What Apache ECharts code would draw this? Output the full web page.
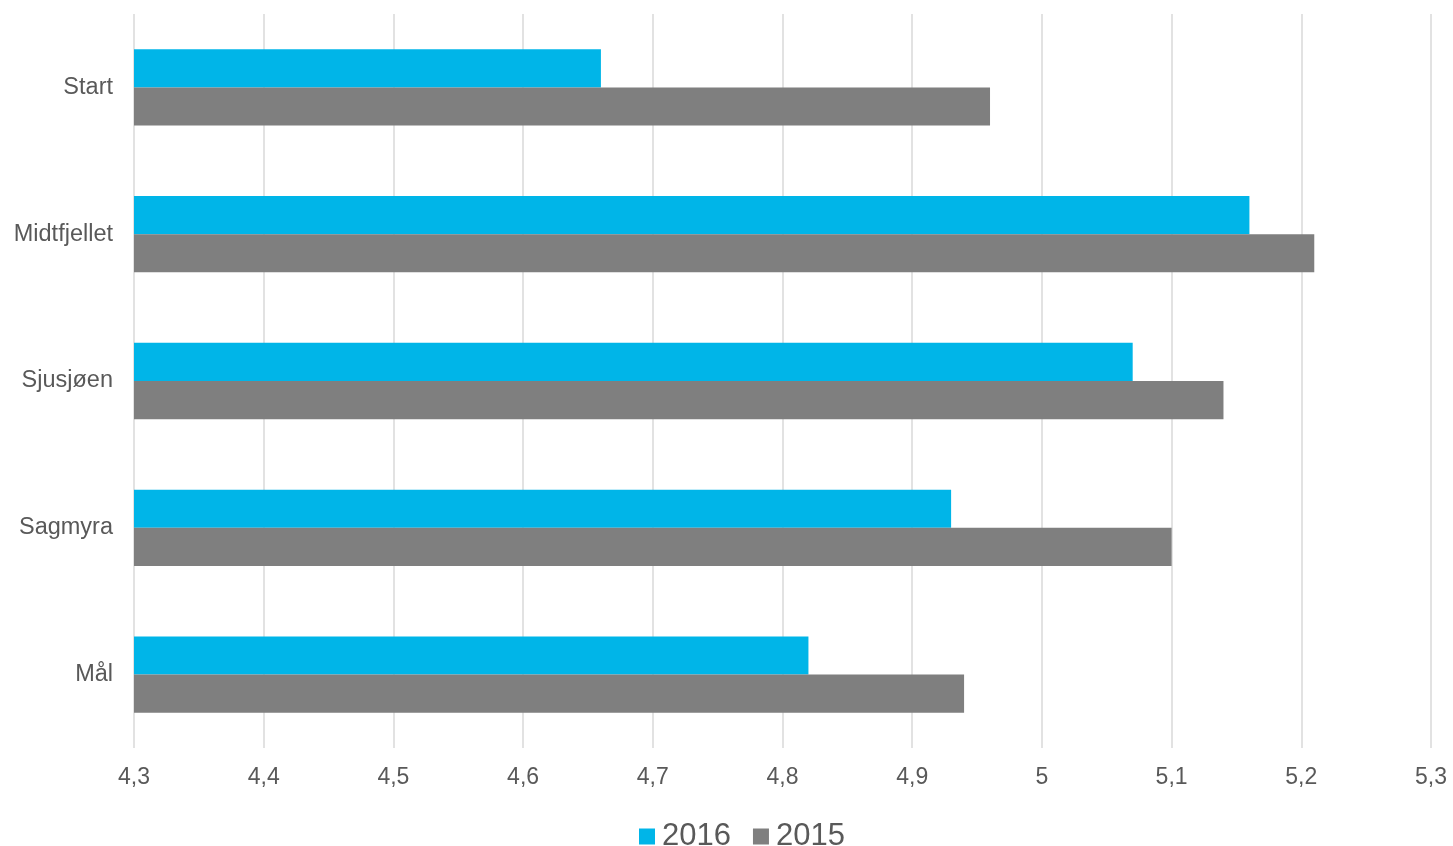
<!DOCTYPE html>
<html><head><meta charset="utf-8">
<script src="https://cdn.jsdelivr.net/npm/echarts@6/dist/echarts.min.js"></script>
<style>html,body{margin:0;padding:0;background:#fff}#c{width:1453px;height:846px}</style>
</head><body><div id="c"></div>
<script>
const categories = ["Start", "Midtfjellet", "Sjusjøen", "Sagmyra", "Mål"];
const values2016 = [4.66, 5.16, 5.07, 4.93, 4.82];
const values2015 = [4.96, 5.21, 5.14, 5.10, 4.94];
const seriesNames = ["2016", "2015"];

const chart = echarts.init(document.getElementById('c'));
chart.setOption({
  animation: false,
  textStyle: {fontFamily: 'Liberation Sans, Arial, sans-serif'},
  grid: {left: 134, right: 22, top: 14, bottom: 98, containLabel: false},
  legend: {
    left: 634, top: 816,
    itemWidth: 16, itemHeight: 16, itemGap: 22,
    icon: 'rect',
    textStyle: {fontSize: 31, color: '#595959', padding: [0, 0, 0, 2], fontFamily: 'Liberation Sans, Arial, sans-serif'},
    data: seriesNames
  },
  xAxis: {
    type: 'value', min: 4.3, max: 5.3, interval: 0.1,
    axisLine: {show: false}, axisTick: {show: false},
    splitLine: {show: true, lineStyle: {color: '#d9d9d9', width: 1.5}},
    axisLabel: {
      color: '#595959', fontSize: 23, margin: 18,
      formatter: v => (Math.round(v * 10) / 10).toString().replace('.', ',')
    }
  },
  yAxis: {
    type: 'category', data: categories, inverse: true,
    axisLine: {show: false}, axisTick: {show: false},
    axisLabel: {color: '#595959', fontSize: 23.5, margin: 21, padding: [4, 0, 0, 0]}
  },
  series: [
    {name: seriesNames[0], type: 'bar', data: values2016, itemStyle: {color: '#00B5E8'}, barGap: '0%', barCategoryGap: '48%'},
    {name: seriesNames[1], type: 'bar', data: values2015, itemStyle: {color: '#7F7F7F'}, barGap: '0%', barCategoryGap: '48%'}
  ]
});
</script></body></html>
